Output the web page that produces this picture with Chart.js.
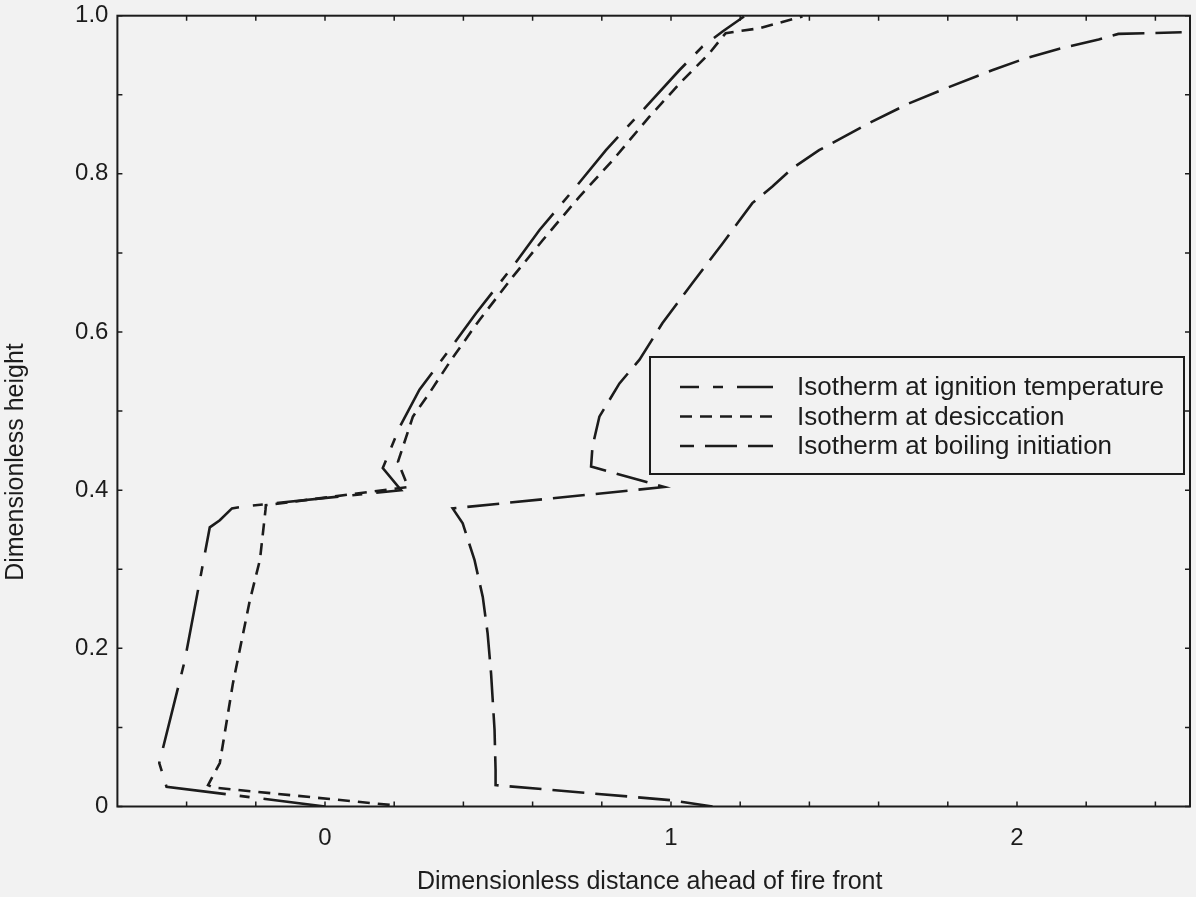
<!DOCTYPE html>
<html>
<head>
<meta charset="utf-8">
<script src="https://cdn.jsdelivr.net/npm/chart.js@4.4.1/dist/chart.umd.min.js"></script>
<style>
  html, body { margin: 0; padding: 0; background: #f2f2f2; }
  canvas { display: block; }
</style>
</head>
<body>
<canvas id="chart" width="1196" height="897"></canvas>
<script>
// Isotherm positions: dimensionless distance ahead of the fire front (x) vs dimensionless height (y)
const seriesNames = [
  'Isotherm at ignition temperature',
  'Isotherm at desiccation',
  'Isotherm at boiling initiation'
];

const ignitionX = [0.0, -0.458, -0.479, -0.405, -0.333, -0.304, -0.269, -0.223, 0.220, 0.167, 0.216, 0.273, 0.365, 0.437, 0.543, 0.620, 0.726, 0.812, 0.928, 1.024, 1.091, 1.149, 1.211];
const ignitionY = [0.0, 0.025, 0.055, 0.185, 0.353, 0.362, 0.377, 0.380, 0.400, 0.428, 0.480, 0.527, 0.581, 0.624, 0.683, 0.729, 0.784, 0.830, 0.885, 0.931, 0.961, 0.980, 0.999];

const desiccationX = [0.187, -0.323, -0.338, -0.304, -0.266, -0.217, -0.188, -0.172, -0.171, 0.240, 0.211, 0.254, 0.302, 0.365, 0.446, 0.543, 0.629, 0.735, 0.831, 0.937, 1.033, 1.110, 1.158, 1.254, 1.380];
const desiccationY = [0.002, 0.024, 0.027, 0.055, 0.156, 0.261, 0.312, 0.375, 0.381, 0.404, 0.436, 0.493, 0.523, 0.565, 0.615, 0.670, 0.716, 0.771, 0.817, 0.872, 0.918, 0.952, 0.978, 0.984, 0.999];

const boilingX = [1.12, 1.000, 0.493, 0.493, 0.490, 0.480, 0.470, 0.456, 0.432, 0.398, 0.369, 0.980, 0.769, 0.773, 0.793, 0.851, 0.909, 0.975, 1.062, 1.149, 1.235, 1.293, 1.351, 1.428, 1.572, 1.687, 1.793, 1.928, 2.024, 2.120, 2.236, 2.293, 2.476];
const boilingY = [0.0, 0.008, 0.027, 0.046, 0.097, 0.168, 0.219, 0.265, 0.312, 0.358, 0.377, 0.404, 0.430, 0.455, 0.493, 0.535, 0.565, 0.611, 0.662, 0.712, 0.763, 0.784, 0.807, 0.830, 0.864, 0.889, 0.908, 0.931, 0.946, 0.958, 0.970, 0.977, 0.979];

const xLabeledTicks = [0, 1, 2];
const yLabeledTicks = [0, 0.2, 0.4, 0.6, 0.8, 1.0];

const xTitle = 'Dimensionless distance ahead of fire front';
const yTitle = 'Dimensionless height';

const INK = '#1c1c1c';
const FONT = "'Liberation Sans', Arial, Helvetica, sans-serif";

const toPoints = (xs, ys) => xs.map((x, i) => ({ x, y: ys[i] }));

const dashes = [
  [62, 14, 10, 14],   // long - short
  [12, 8],            // short dashes
  [32, 11]            // medium dashes
];
const legendDashOffsets = [43, 0, 18];

const datasets = [
  toPoints(ignitionX, ignitionY),
  toPoints(desiccationX, desiccationY),
  toPoints(boilingX, boilingY)
].map((data, i) => ({
  label: seriesNames[i],
  data,
  showLine: true,
  fill: false,
  tension: 0,
  borderColor: INK,
  borderWidth: 2.6,
  borderDash: dashes[i],
  pointRadius: 0,
  pointHoverRadius: 0
}));

const near = (v, list) => list.some(t => Math.abs(v - t) < 1e-6);

// Frame, inward tick marks, axis titles and boxed legend
const framePlugin = {
  id: 'frameAndLegend',
  afterDatasetsDraw(chart) {
    const { ctx, chartArea: a, scales: { x, y } } = chart;
    ctx.save();

    // frame
    ctx.strokeStyle = INK;
    ctx.lineWidth = 2;
    ctx.setLineDash([]);
    ctx.strokeRect(a.left, a.top, a.right - a.left, a.bottom - a.top);

    // inward ticks on all four sides
    ctx.lineWidth = 1.5;
    ctx.beginPath();
    x.ticks.forEach(t => {
      const p = x.getPixelForValue(t.value);
      ctx.moveTo(p, a.bottom); ctx.lineTo(p, a.bottom - 5);
      ctx.moveTo(p, a.top); ctx.lineTo(p, a.top + 5);
    });
    y.ticks.forEach(t => {
      const p = y.getPixelForValue(t.value);
      ctx.moveTo(a.left, p); ctx.lineTo(a.left + 5, p);
      ctx.moveTo(a.right, p); ctx.lineTo(a.right - 5, p);
    });
    ctx.stroke();

    // axis titles
    ctx.fillStyle = INK;
    ctx.font = '25px ' + FONT;
    ctx.textAlign = 'center';
    ctx.textBaseline = 'middle';
    ctx.fillText(xTitle, (a.left + a.right) / 2 - 4, a.bottom + 76);
    ctx.save();
    ctx.translate(16, 462);
    ctx.rotate(-Math.PI / 2);
    ctx.fillText(yTitle, 0, 0);
    ctx.restore();

    // legend box
    const box = { left: 650, top: 357, right: a.right - 6, bottom: 474 };
    ctx.fillStyle = '#f2f2f2';
    ctx.fillRect(box.left, box.top, box.right - box.left, box.bottom - box.top);
    ctx.lineWidth = 2;
    ctx.strokeStyle = INK;
    ctx.strokeRect(box.left, box.top, box.right - box.left, box.bottom - box.top);

    ctx.font = '26px ' + FONT;
    ctx.textAlign = 'left';
    ctx.fillStyle = INK;
    chart.data.datasets.forEach((ds, i) => {
      const rowY = 387 + i * 29.5;
      ctx.lineWidth = ds.borderWidth;
      ctx.setLineDash(ds.borderDash);
      ctx.lineDashOffset = legendDashOffsets[i];
      ctx.beginPath();
      ctx.moveTo(680, rowY);
      ctx.lineTo(773, rowY);
      ctx.stroke();
      ctx.setLineDash([]);
      ctx.fillText(ds.label, 797, rowY + 1);
    });

    ctx.restore();
  }
};

new Chart(document.getElementById('chart'), {
  type: 'scatter',
  data: { datasets },
  options: {
    responsive: false,
    animation: false,
    devicePixelRatio: 1,
    layout: { padding: { top: 15.7, right: 6, left: 0, bottom: 0 } },
    plugins: {
      legend: { display: false },
      tooltip: { enabled: false }
    },
    scales: {
      x: {
        type: 'linear',
        min: -0.6,
        max: 2.5,
        afterFit(scale) { scale.height = 90.5; scale.paddingLeft = 0; scale.paddingRight = 0; },
        grid: { display: false, drawTicks: false },
        border: { display: false },
        ticks: {
          stepSize: 0.2,
          includeBounds: false,
          autoSkip: false,
          maxRotation: 0,
          padding: 17,
          color: INK,
          font: { family: FONT, size: 24 },
          callback: v => near(v, xLabeledTicks) ? String(Math.round(v)) : ''
        }
      },
      y: {
        type: 'linear',
        min: 0,
        max: 1,
        afterFit(scale) { scale.width = 117.4; scale.paddingTop = 0; scale.paddingBottom = 0; },
        grid: { display: false, drawTicks: false },
        border: { display: false },
        ticks: {
          stepSize: 0.1,
          autoSkip: false,
          padding: 9,
          color: INK,
          font: { family: FONT, size: 24 },
          callback: v => near(v, yLabeledTicks) ? (Math.abs(v) < 1e-9 ? '0' : v.toFixed(1)) : ''
        }
      }
    }
  },
  plugins: [framePlugin]
});
</script>
</body>
</html>
